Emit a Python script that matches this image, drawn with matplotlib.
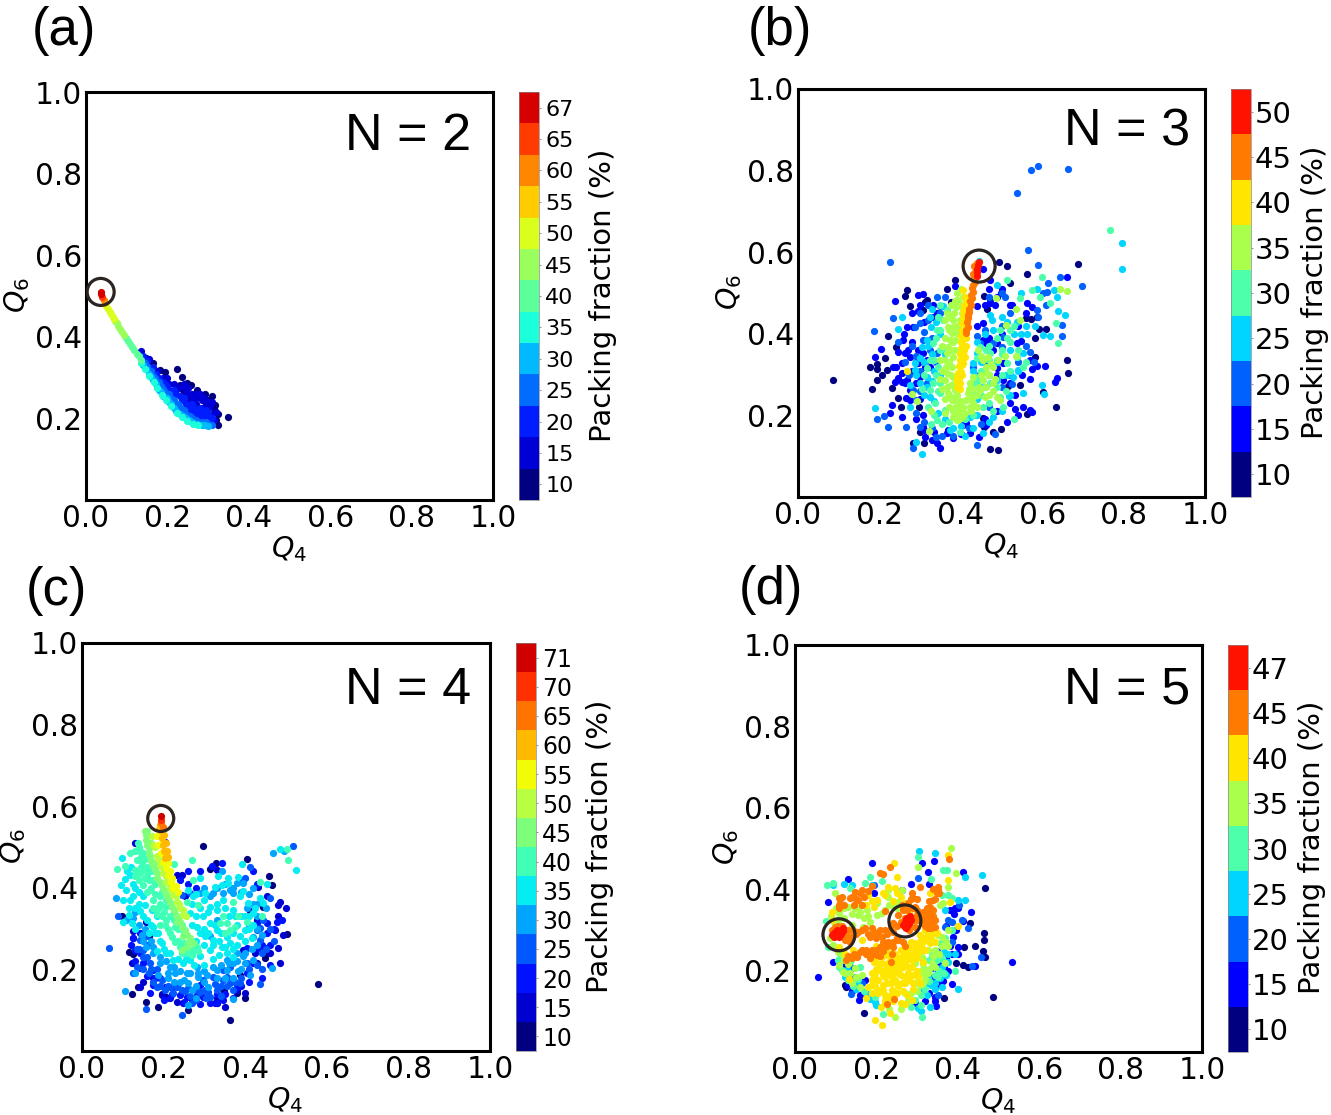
import matplotlib
matplotlib.use("Agg")
import matplotlib.pyplot as plt
from matplotlib.colors import ListedColormap, BoundaryNorm

W, H = 1331, 1115

# (Q4, Q6), one list per packing fraction level
a_10 = [(.147,.347),(.164,.335),(.182,.318),(.193,.314),(.224,.321),(.235,.302),(.231,.282),(.247,.286),(.272,.269),(.292,.261),(.309,.255),(.317,.233),(.325,.212),(.35,.204),(.325,.184),(.310,.186),(.239,.269),(.247,.253),(.258,.283),(.283,.255),(.300,.245),(.315,.225),(.320,.195)]
a_15 = [(.135,.365),(.155,.345),(.175,.315),(.190,.300),(.205,.285),(.225,.275),(.245,.27),(.26,.26),(.27,.25),(.285,.245),(.295,.235),(.305,.23),(.31,.21),(.30,.20),(.315,.195),(.245,.24),(.255,.235),(.27,.235),(.235,.255),(.215,.265),
        (.20,.30),(.215,.285),(.235,.28),(.25,.26),(.26,.245),(.28,.26),(.29,.25),(.30,.24),(.31,.24),(.32,.215),(.29,.21),(.25,.275),(.27,.26),(.285,.225),(.3,.225),(.24,.285)]
a_20 = [(.140,.352),(.165,.325),(.18,.30),(.195,.285),(.205,.27),(.22,.26),(.235,.245),(.25,.225),(.265,.225),(.28,.225),(.295,.22),(.30,.21),(.275,.205),(.29,.195),(.305,.19),(.26,.21),
        (.15,.34),(.172,.31),(.19,.29),(.2,.28),(.215,.27),(.23,.255),(.245,.235),(.26,.235),(.27,.215),(.285,.21),(.255,.22),(.295,.2),(.31,.2),(.28,.2),(.24,.25)]
a_25 = [(.145,.335),(.16,.315),(.17,.30),(.185,.28),(.195,.265),(.21,.25),(.225,.235),(.24,.22),(.255,.205),(.27,.195),(.285,.19),(.30,.187),(.31,.185),
        (.15,.325),(.165,.305),(.18,.29),(.19,.272),(.205,.26),(.215,.245),(.23,.228),(.245,.212),(.26,.2),(.275,.19),(.295,.192)]
a_30 = [(.14,.33),(.155,.31),(.165,.295),(.18,.27),(.19,.255),(.205,.24),(.215,.225),(.23,.21),(.245,.2),(.26,.19),(.285,.184),(.30,.182),
        (.148,.32),(.16,.302),(.172,.285),(.185,.265),(.198,.25),(.21,.235),(.222,.218),(.238,.205),(.252,.195),(.272,.186),(.292,.183)]
a_35 = [(.135,.335),(.145,.32),(.155,.305),(.166,.288),(.175,.275),(.187,.257),(.197,.245),(.21,.23),(.223,.214),(.235,.203),(.247,.194),(.262,.187),(.276,.184)]
a_40 = [(.098,.398),(.103,.390),(.109,.382),(.114,.375),(.119,.367),(.125,.359),(.130,.352),(.136,.344)]
a_45 = [(.072,.439),(.075,.434),(.079,.427),(.084,.420),(.089,.412),(.094,.405)]
a_50 = [(.050,.476),(.054,.469),(.058,.462),(.062,.455),(.066,.448),(.069,.443)]
a_55 = [(.047,.483)]
a_60 = [(.043,.490)]
a_65 = [(.040,.497)]
a_67 = [(.036,.510),(.038,.505)]

b_10 = [(.087,.287),(.177,.318),(.193,.326),(.193,.313),(.181,.264),(.206,.299),(.218,.311),(.195,.287),(.222,.395),(.214,.340),(.230,.266),(.242,.367),(.269,.507),(.263,.493),(.275,.468),(.312,.479),(.318,.484),(.308,.458),(.246,.242),(.252,.221),(.298,.221),(.300,.160),(.310,.132),(.283,.132),(.472,.118),(.491,.115),(.498,.166),(.455,.193),(.457,.172),(.480,.160),(.634,.220),(.563,.203),(.601,.258),(.664,.305),(.662,.336),(.582,.342),(.593,.411),(.609,.411),(.583,.389),(.588,.442),(.572,.436),(.560,.438),(.563,.547),(.689,.571),(.513,.566),(.495,.575),(.386,.533),(.367,.511),(.375,.479),(.464,.460),(.458,.493),(.521,.525),(.545,.275),(.517,.272)]
b_15 = [(.455,.560),(.472,.532),(.662,.540),(.238,.481),(.296,.495),(.308,.498),(.296,.455),(.189,.344),(.203,.363),(.242,.319),(.246,.291),(.255,.283),(.267,.287),(.265,.242),(.230,.225),(.226,.205),(.255,.197),(.308,.201),(.312,.148),(.341,.132),(.350,.119),(.334,.160),(.365,.158),(.423,.158),(.445,.148),(.513,.185),(.533,.250),(.533,.215),(.552,.220),(.574,.209),(.637,.291),(.607,.322),(.588,.321),(.576,.313),(.547,.383),(.562,.475),(.525,.471),(.472,.483),(.484,.471),(.498,.499),(.439,.467),(.414,.181),(.431,.201),(.463,.377),(.480,.360),(.275,.344),(.316,.336),(.312,.319),(.300,.295),
        (.267,.417),(.279,.450),(.332,.471),(.341,.450),(.257,.386),(.246,.356),(.263,.352),(.255,.328),(.234,.319),(.255,.303),(.238,.283),(.263,.279),(.275,.262),(.275,.238),(.296,.328),(.308,.352),(.296,.360),(.324,.319),(.308,.172),(.369,.164),(.406,.176),(.463,.176),(.504,.287),(.488,.315),(.504,.328),(.570,.336),(.574,.466),(.537,.377),(.488,.377),(.455,.385),(.472,.475),(.488,.491),(.386,.516),(.332,.442),(.570,.213),(.283,.417),(.455,.426),(.439,.418),(.631,.283),
        (.26,.40),(.28,.38),(.27,.36),(.29,.33),(.28,.31),(.29,.28),(.30,.24),(.29,.19),(.31,.165),(.33,.14),(.38,.145),(.40,.155),(.46,.19),(.49,.21),(.52,.28),(.49,.30),(.47,.39),(.50,.40),(.54,.42),(.56,.45),(.52,.47),(.50,.51),(.47,.51),(.46,.47),(.31,.43),(.30,.47),(.55,.30),(.57,.29),(.52,.23),(.54,.20)]
b_20 = [(.226,.577),(.537,.744),(.572,.802),(.590,.811),(.664,.803),(.565,.605),(.589,.568),(.644,.538),(.699,.518),(.615,.524),(.186,.408),(.234,.438),(.212,.198),(.193,.192),(.222,.172),(.265,.171),(.283,.119),(.339,.148),(.441,.127),(.484,.154),(.246,.381),(.288,.417),(.300,.426),(.341,.491),(.349,.467),(.320,.434),(.308,.385),(.324,.360),(.341,.352),(.283,.262),(.291,.238),(.300,.172),(.500,.499),(.509,.491),(.586,.458),(.603,.499),(.611,.503),(.649,.395),(.649,.422),(.570,.356),(.500,.368),(.480,.377),(.447,.377),(.431,.319),(.504,.393),(.525,.278),
        (.262,.33),(.272,.30),(.29,.345),(.30,.31),(.28,.37),(.31,.405),(.33,.39),(.34,.33),(.318,.28),(.30,.26),(.29,.205),(.31,.185),(.33,.17),(.355,.15),(.38,.15),(.42,.17),(.45,.18),(.47,.22),(.50,.27),(.52,.30),(.54,.33),(.50,.42),(.52,.45),(.47,.49),(.46,.41),(.44,.395),(.46,.33),(.445,.30),(.59,.44),(.61,.47),(.56,.37),(.58,.33),(.35,.45),(.36,.49),(.32,.47),(.30,.45)]
b_25 = [(.189,.219),(.255,.442),(.246,.412),(.305,.105),(.291,.134),(.795,.623),(.796,.560),(.445,.578),(.488,.520),(.549,.499),(.586,.509),(.629,.507),(.636,.491),(.640,.456),(.657,.446),(.582,.420),(.547,.400),(.563,.400),(.601,.397),(.619,.395),(.600,.275),(.605,.252),(.552,.254),(.529,.295),(.541,.311),(.518,.248),(.423,.197),(.324,.442),(.357,.467),(.328,.417),(.316,.385),(.304,.368),(.287,.328),(.275,.274),(.287,.311),(.316,.295),(.316,.270),(.324,.246),(.275,.221),(.373,.164),(.455,.156),(.480,.197),(.431,.328),(.439,.352),(.472,.446),(.476,.434),(.513,.430),(.537,.430),(.553,.352),(.488,.287),
        (.33,.46),(.34,.43),(.35,.40),(.32,.37),(.33,.35),(.30,.34),(.29,.30),(.31,.33),(.335,.31),(.30,.28),(.33,.285),(.31,.25),(.335,.235),(.345,.205),(.36,.19),(.38,.17),(.40,.175),(.41,.15),(.43,.17),(.44,.20),(.47,.185),(.50,.21),(.52,.25),(.51,.30),(.49,.33),(.45,.33),(.44,.38),(.46,.40),(.48,.41),(.50,.44),(.53,.40),(.56,.42),(.52,.36),(.54,.31),(.47,.30),(.45,.27),(.43,.31),(.44,.24),(.36,.35),(.35,.30),(.35,.26)]
b_30 = [(.767,.654),(.599,.538),(.640,.378),(.531,.192),(.545,.487),(.513,.532),(.574,.507),(.594,.491),(.619,.475),(.634,.426),(.496,.409),(.513,.389),(.521,.409),(.500,.360),(.472,.352),(.488,.336),(.513,.328),(.537,.344),(.553,.319),(.439,.295),(.472,.279),(.496,.246),(.504,.221),(.455,.221),(.431,.254),(.365,.458),(.357,.434),(.341,.409),(.332,.377),(.357,.368),(.324,.336),(.345,.319),(.316,.315),(.332,.279),(.324,.262),(.349,.254),(.337,.230),(.361,.213),(.341,.189),(.328,.179),(.398,.160),(.463,.360),(.447,.368),
        (.35,.47),(.345,.44),(.35,.41),(.34,.39),(.35,.36),(.335,.335),(.34,.30),(.35,.28),(.345,.26),(.31,.30),(.305,.265),(.32,.22),(.335,.20),(.355,.18),(.37,.185),(.41,.19),(.43,.20),(.45,.25),(.46,.27),(.49,.27),(.51,.26),(.47,.23),(.48,.21),(.44,.28),(.45,.31),(.47,.335),(.50,.35),(.52,.38),(.53,.42),(.49,.39),(.47,.37),(.44,.34),(.43,.28),(.54,.36),(.56,.33),(.52,.31),(.50,.30)]
b_35 = [(.390,.499),(.391,.483),(.388,.466),(.383,.450),(.382,.434),(.380,.417),(.378,.401),(.373,.385),(.369,.368),(.365,.352),(.361,.336),(.364,.319),(.367,.303),(.361,.287),(.365,.270),(.369,.254),(.378,.238),(.386,.221),(.394,.205),(.402,.197),(.390,.189),(.406,.221),(.414,.238),(.418,.254),(.386,.262),(.386,.279),(.382,.295),(.378,.319),(.382,.344),(.386,.360),(.386,.385),(.390,.401),(.394,.417),(.398,.434),(.402,.450),(.402,.466),(.406,.491),(.365,.450),(.361,.434),(.369,.417),(.431,.246),(.447,.262),(.463,.270),(.480,.279),(.455,.287),(.480,.319),(.463,.319),(.468,.344),(.443,.360),(.488,.246),(.459,.246),(.496,.238),(.439,.221),(.423,.221),(.382,.197),(.361,.205),(.644,.509),(.660,.504),(.486,.487),(.536,.462),(.545,.434),(.511,.422),(.536,.346),(.509,.346),(.491,.337),(.279,.252),(.293,.236),(.322,.162),(.327,.211),(.423,.279),(.431,.295),
        (.375,.47),(.37,.44),(.37,.41),(.36,.39),(.355,.37),(.35,.335),(.355,.31),(.35,.29),(.355,.265),(.36,.24),(.37,.22),(.38,.21),(.395,.19),(.41,.205),(.425,.21),(.43,.23),(.375,.245),(.39,.25),(.40,.235),(.42,.24),(.44,.25),(.445,.27),(.47,.25),(.48,.26),(.45,.30),(.47,.30),(.375,.30),(.37,.33),(.375,.36),(.38,.38),(.39,.42),(.385,.48),(.395,.475),(.40,.51),(.395,.22),(.40,.21),(.39,.235),(.375,.275),(.42,.265),(.43,.265),(.45,.345),(.455,.335),(.475,.325),(.465,.305),(.485,.29)]
b_40 = [(.267,.310),(.406,.507),(.410,.491),(.414,.475),(.413,.458),(.406,.442),(.402,.426),(.410,.405),(.406,.389),(.405,.373),(.406,.356),(.402,.340),(.402,.324),(.400,.307),(.396,.291),(.394,.275),(.398,.264),(.414,.369),(.410,.344),(.406,.328),(.390,.295),(.398,.279),
        (.408,.47),(.405,.455),(.403,.41),(.401,.395),(.40,.38),(.40,.365),(.398,.35),(.397,.335),(.396,.32),(.393,.305),(.39,.285),(.39,.27),(.412,.44),(.41,.425),(.412,.39),(.408,.36),(.404,.30)]
b_45 = [(.441,.573),(.439,.565),(.435,.552),(.432,.536),(.431,.520),(.429,.503),(.427,.487),(.424,.471),(.421,.454),(.418,.438),(.418,.417),(.414,.401),(.432,.565),(.429,.547),
        (.436,.545),(.434,.528),(.428,.512),(.426,.495),(.423,.48),(.42,.462),(.418,.447),(.415,.43),(.412,.41),(.437,.56)]
b_50 = [(.445,.577),(.443,.569),(.441,.560),(.440,.552),(.439,.542)]

c_10 = [(.296,.503),(.404,.470),(.328,.460),(.314,.446),(.458,.429),(.465,.406),(.444,.354),(.412,.342),(.097,.330),(.578,.165),(.363,.077),(.187,.107),(.157,.121),(.122,.140),(.114,.242),(.124,.238),(.163,.281),(.399,.129),(.379,.142),(.349,.146),(.207,.133),(.195,.140),(.261,.101),(.457,.240),(.449,.227),(.502,.286),(.428,.321),(.387,.187),(.330,.117),(.138,.158)]
c_15 = [(.124,.295),(.123,.216),(.124,.276),(.142,.158),(.150,.170),(.175,.178),(.195,.138),(.213,.129),(.232,.121),(.248,.117),(.330,.129),(.350,.109),(.379,.150),(.399,.142),(.485,.215),(.481,.252),(.493,.285),(.499,.350),(.485,.366),(.481,.358),(.481,.332),(.473,.297),(.449,.252),(.424,.240),(.428,.215),(.461,.240),(.244,.432),(.232,.432),(.252,.379),(.330,.444),(.130,.509),(.203,.513),(.453,.379),(.432,.403),(.416,.342),(.395,.248),(.158,.317),(.326,.117)]
c_20 = [(.126,.276),(.142,.289),(.130,.248),(.142,.240),(.154,.227),(.142,.203),(.175,.199),(.191,.178),(.203,.158),(.224,.158),(.240,.138),(.257,.133),(.297,.133),(.330,.117),(.289,.162),(.346,.125),(.379,.158),(.404,.191),(.420,.215),(.440,.260),(.432,.252),(.404,.252),(.428,.313),(.318,.454),(.342,.462),(.261,.440),(.240,.419),(.395,.419),(.167,.142),(.216,.129),(.281,.138),(.314,.117),(.175,.162),(.477,.317),(.453,.289),(.453,.313),
        (.12,.26),(.15,.215),(.16,.185),(.18,.18),(.2,.125),(.22,.14),(.25,.12),(.27,.125),(.29,.115),(.33,.14),(.35,.14),(.37,.13),(.39,.16),(.41,.17),(.44,.18),(.46,.21),(.46,.26),(.47,.3),(.49,.32),(.26,.41),(.28,.40),(.29,.44),(.42,.44),(.43,.41),(.13,.22)]
c_25 = [(.066,.253),(.516,.503),(.158,.103),(.244,.089),(.436,.165),(.089,.330),(.126,.191),(.142,.272),(.158,.281),(.150,.248),(.167,.215),(.195,.174),(.183,.158),(.232,.158),(.252,.146),(.281,.150),(.301,.150),(.330,.150),(.346,.174),(.363,.166),(.387,.166),(.404,.215),(.436,.272),(.444,.321),(.461,.374),(.412,.452),(.399,.423),(.265,.387),(.244,.383),(.134,.207),(.163,.191),(.216,.158),(.314,.133),(.355,.182),(.428,.297),(.436,.301),(.269,.117),(.224,.142),(.203,.150),(.371,.150),(.363,.207),(.346,.199),(.322,.182),(.297,.174),
        (.15,.23),(.16,.23),(.17,.20),(.185,.20),(.19,.16),(.21,.16),(.235,.165),(.245,.15),(.265,.135),(.29,.145),(.31,.145),(.325,.165),(.34,.16),(.355,.16),(.375,.17),(.39,.18),(.41,.20),(.43,.21),(.44,.24),(.44,.20),(.15,.20),(.175,.17),(.26,.155),(.28,.125),(.305,.13),(.34,.135),(.46,.30),(.47,.27),(.45,.25),(.135,.25),(.14,.25),(.16,.26)]
c_30 = [(.467,.486),(.496,.491),(.083,.376),(.130,.191),(.105,.147),(.279,.129),(.369,.127),(.342,.440),(.109,.321),(.126,.325),(.146,.285),(.158,.256),(.175,.240),(.191,.215),(.216,.207),(.228,.191),(.240,.170),(.261,.166),(.285,.182),(.306,.187),(.330,.199),(.355,.199),(.371,.215),(.395,.232),(.416,.249),(.420,.223),(.412,.187),(.465,.203),(.379,.240),(.383,.195),(.355,.223),(.281,.207),(.257,.191),(.212,.178),(.187,.187),(.269,.150),(.310,.158),(.261,.113),(.346,.387),(.363,.395),(.314,.379),(.289,.387),(.420,.399),(.395,.411),(.379,.411),(.322,.387),(.371,.387),(.404,.350),(.330,.321),(.293,.289),(.314,.281),
        (.13,.34),(.12,.33),(.14,.31),(.155,.30),(.15,.27),(.17,.27),(.175,.255),(.19,.23),(.205,.22),(.225,.205),(.24,.195),(.265,.19),(.285,.19),(.30,.195),(.32,.205),(.34,.21),(.36,.215),(.38,.22),(.40,.24),(.40,.215),(.30,.17),(.28,.16),(.33,.18),(.35,.18),(.37,.18),(.39,.20),(.21,.19),(.225,.17),(.25,.175),(.30,.40),(.33,.40),(.35,.41),(.37,.40),(.39,.39),(.41,.385),(.43,.36),(.45,.35),(.43,.33),(.42,.36),(.41,.31),(.43,.30),(.44,.285),(.43,.26),(.42,.28)]
c_35 = [(.099,.474),(.118,.432),(.105,.421),(.096,.407),(.109,.395),(.126,.379),(.118,.370),(.114,.334),(.101,.315),(.122,.313),(.142,.342),(.154,.358),(.171,.346),(.183,.330),(.175,.305),(.187,.289),(.195,.264),(.183,.244),(.207,.240),(.224,.223),(.248,.215),(.265,.223),(.289,.232),(.314,.248),(.301,.281),(.322,.272),(.342,.256),(.363,.264),(.387,.281),(.399,.297),(.330,.297),(.314,.313),(.297,.330),(.281,.305),(.265,.338),(.273,.379),(.261,.395),(.301,.387),(.326,.403),(.342,.407),(.359,.411),(.383,.426),(.395,.391),(.387,.379),(.408,.362),(.420,.338),(.424,.350),(.436,.374),(.444,.362),(.346,.370),(.371,.346),(.314,.354),(.289,.423),(.334,.428),(.359,.423),(.330,.346),(.525,.444),(.391,.458),(.485,.495),(.453,.409),(.417,.278),
        (.30,.30),(.31,.29),(.325,.31),(.34,.29),(.355,.28),(.37,.29),(.38,.31),(.39,.33),(.40,.33),(.375,.33),(.36,.33),(.35,.35),(.33,.36),(.31,.34),(.29,.35),(.28,.33),(.27,.31),(.29,.29),(.28,.27),(.30,.26),(.32,.26),(.335,.27),(.35,.255),(.37,.25),(.38,.26),(.40,.27),(.41,.30),(.42,.31),(.41,.33),(.27,.36),(.28,.385),(.30,.37),(.13,.40),(.14,.39),(.15,.38),(.13,.35),(.14,.36),(.15,.33),(.16,.32),(.17,.31),(.18,.29),(.165,.29),(.19,.27),(.20,.25),(.215,.24),(.235,.225),(.255,.225),(.275,.21),(.30,.21),(.32,.225),(.335,.235),(.355,.24),(.37,.23),(.12,.45),(.11,.44),(.125,.41),(.10,.37),(.115,.35),(.13,.30)]
c_40 = [(.138,.509),(.142,.489),(.134,.468),(.146,.464),(.154,.444),(.142,.436),(.163,.419),(.150,.407),(.167,.395),(.175,.370),(.187,.350),(.195,.330),(.203,.309),(.216,.289),(.228,.268),(.240,.256),(.257,.240),(.269,.248),(.281,.256),(.228,.305),(.216,.330),(.203,.354),(.191,.379),(.118,.485),(.105,.454),(.130,.444),(.085,.446),(.269,.468),(.225,.459),(.502,.495),(.506,.468),(.273,.419),(.383,.330),(.404,.315),(.440,.330),(.436,.415),(.371,.366),(.285,.358),(.257,.366),(.346,.330),(.355,.313),(.363,.297),(.338,.313),(.350,.289),(.375,.305),
        (.13,.49),(.14,.50),(.15,.485),(.155,.47),(.16,.45),(.145,.45),(.13,.43),(.14,.42),(.155,.425),(.17,.40),(.16,.39),(.18,.385),(.19,.36),(.175,.35),(.185,.335),(.20,.34),(.205,.32),(.19,.31),(.21,.30),(.225,.32),(.235,.30),(.22,.28),(.235,.27),(.25,.265),(.26,.25),(.245,.24),(.27,.235),(.285,.245),(.275,.265),(.24,.31),(.25,.29),(.145,.475),(.16,.43),(.17,.44),(.175,.42),(.18,.41),(.195,.39),(.205,.37),(.215,.355),(.225,.34),(.235,.325),(.245,.31)]
c_45 = [(.154,.538),(.158,.517),(.163,.497),(.167,.477),(.175,.456),(.183,.436),(.191,.415),(.201,.395),(.212,.374),(.220,.354),(.230,.334),(.240,.317),(.252,.297),(.265,.276),(.273,.264),(.257,.256),(.244,.248),(.232,.317),(.248,.281),(.261,.264),
        (.157,.53),(.16,.505),(.165,.485),(.17,.465),(.178,.445),(.185,.425),(.195,.405),(.205,.385),(.215,.365),(.225,.345),(.235,.325),(.245,.305),(.258,.285),(.268,.27),(.16,.54),(.17,.51),(.18,.46)]
c_50 = [(.171,.526),(.175,.505),(.183,.477),(.190,.456),(.199,.436),(.207,.415),(.216,.399),(.224,.383),(.232,.366),(.240,.350),(.247,.334),
        (.18,.50),(.187,.47),(.195,.45),(.205,.43),(.213,.41),(.22,.395),(.23,.38),(.238,.36),(.248,.345),(.255,.33)]
c_55 = [(.183,.526),(.187,.505),(.193,.485),(.199,.464),(.206,.448),(.212,.432),(.217,.415),(.224,.399),
        (.196,.51),(.205,.475),(.21,.46),(.215,.44),(.22,.425),(.23,.405),(.235,.39)]
c_60 = [(.191,.554),(.193,.538),(.195,.522),(.198,.505),(.201,.489),(.204,.473),(.188,.545),(.20,.53),(.205,.51),(.208,.49),(.21,.475)]
c_65 = [(.193,.558),(.198,.550)]
c_70 = [(.193,.566)]
c_71 = [(.193,.575)]

d_10 = [(.467,.404),(.465,.293),(.464,.275),(.442,.261),(.415,.257),(.463,.247),(.467,.233),(.395,.218),(.412,.214),(.426,.208),(.487,.134),(.366,.132),(.170,.097),(.123,.165),(.125,.159),(.359,.234),(.430,.316)]
d_15 = [(.188,.464),(.313,.464),(.341,.470),(.056,.185),(.532,.220),(.080,.369),(.131,.425),(.094,.222),(.157,.128),(.346,.114),(.432,.344),(.414,.323),(.401,.353),(.393,.353),(.400,.259),(.389,.283),(.401,.242),(.356,.218),(.348,.165),(.364,.175),(.328,.443),(.329,.414),(.285,.414),(.193,.390),(.352,.202),(.340,.185),(.344,.136),(.172,.177),(.123,.214),(.385,.166),(.295,.120),(.262,.398),(.414,.443),(.442,.211),
        (.35,.17),(.36,.19),(.365,.21),(.375,.20),(.37,.23),(.385,.24),(.38,.26),(.395,.30),(.37,.31),(.39,.34),(.38,.35),(.33,.145),(.345,.125),(.32,.125),(.16,.14),(.14,.15),(.13,.165)]
d_20 = [(.137,.143),(.377,.324),(.424,.304),(.456,.234),(.434,.211),(.385,.320),(.385,.271),(.404,.362),(.303,.427),(.352,.140),(.336,.206),(.165,.169),(.193,.410),(.410,.324),(.369,.308),(.344,.177),(.147,.185),(.139,.206),(.348,.247)]
d_25 = [(.305,.494),(.344,.488),(.460,.435),(.120,.414),(.093,.410),(.418,.431),(.188,.410),(.301,.107),(.332,.111),(.401,.154),(.418,.374),(.401,.374),(.369,.349),(.328,.169),(.328,.185),(.311,.152),(.139,.410),(.147,.177),(.123,.185),(.127,.201),(.377,.242),(.356,.181),(.393,.242),(.364,.226),(.197,.124),
        (.335,.165),(.345,.155),(.325,.14),(.36,.16),(.37,.19),(.345,.17),(.375,.22),(.36,.21),(.35,.24),(.365,.245),(.15,.155),(.155,.165),(.13,.19),(.175,.145),(.185,.13),(.20,.115),(.31,.10)]
d_30 = [(.078,.410),(.094,.416),(.184,.429),(.213,.419),(.172,.416),(.135,.402),(.301,.478),(.334,.424),(.364,.446),(.373,.447),(.311,.085),(.215,.093),(.076,.323),(.080,.257),(.393,.199),(.107,.210),(.115,.202),(.143,.161),(.369,.279),(.385,.300),(.356,.267),(.336,.238),(.352,.185),(.385,.378),(.360,.386),(.377,.386),(.367,.193),(.131,.177),(.315,.226),(.319,.202),(.295,.128),(.197,.136),
        (.33,.225),(.345,.19),(.33,.175),(.355,.20),(.36,.23),(.35,.225),(.32,.155),(.31,.14),(.31,.115),(.285,.11),(.17,.15),(.155,.18),(.16,.21),(.135,.22),(.11,.23),(.105,.225)]
d_35 = [(.383,.502),(.303,.455),(.396,.439),(.098,.390),(.088,.333),(.107,.341),(.131,.357),(.147,.353),(.156,.337),(.180,.333),(.201,.337),(.176,.349),(.168,.308),(.139,.312),(.086,.279),(.094,.263),(.107,.214),(.119,.197),(.123,.193),(.139,.169),(.147,.206),(.221,.349),(.311,.234),(.336,.218),(.315,.193),(.295,.169),(.270,.144),(.307,.165),(.278,.128),(.246,.087),(.328,.193),(.369,.218),(.362,.282),(.352,.288),(.229,.398),(.262,.398),(.254,.369),(.377,.406),(.364,.365),(.356,.361),(.377,.300),(.229,.382),(.156,.357),(.311,.202),(.295,.218),(.315,.251),(.328,.251),(.201,.365),(.213,.341),
        (.16,.345),(.17,.33),(.185,.32),(.14,.34),(.12,.33),(.105,.325),(.12,.355),(.10,.355),(.095,.32),(.115,.24),(.105,.245),(.12,.225),(.13,.215),(.135,.195),(.15,.185),(.16,.16),(.165,.19),(.315,.215),(.33,.205),(.32,.18),(.315,.17),(.30,.15),(.285,.145),(.26,.105),(.23,.105),(.345,.21),(.355,.24),(.34,.235),(.345,.25),(.36,.26),(.37,.27),(.375,.26),(.24,.36),(.23,.36),(.25,.355)]
d_40 = [(.243,.465),(.251,.431),(.377,.423),(.375,.484),(.092,.343),(.090,.324),(.197,.079),(.213,.066),(.133,.179),(.174,.132),(.221,.128),(.270,.118),(.233,.095),(.211,.111),(.143,.251),(.229,.406),(.246,.402),(.332,.390),(.381,.368),(.400,.310),(.221,.386),(.201,.374),(.193,.357),(.123,.242),(.164,.275),(.270,.259),(.295,.267),(.319,.300),(.336,.292),(.319,.275),(.311,.267),(.262,.234),(.278,.242),(.295,.234),(.246,.242),(.229,.218),(.213,.218),(.197,.193),(.188,.177),(.197,.161),(.217,.152),(.238,.152),(.254,.161),(.270,.185),(.254,.193),(.238,.185),(.221,.185),(.209,.202),(.225,.169),(.246,.177),(.266,.210),(.287,.210),(.270,.218),(.254,.218),(.278,.193),(.262,.169),(.205,.177),(.205,.152),(.188,.165),(.221,.202),(.238,.202),(.287,.226),(.303,.259),(.332,.267),(.348,.292),(.307,.288),(.238,.226),(.209,.251),(.193,.222),(.107,.259),(.307,.169),(.303,.185),(.278,.177),(.229,.136),(.287,.128),
        (.20,.23),(.215,.235),(.23,.235),(.245,.228),(.26,.22),(.275,.228),(.29,.24),(.305,.245),(.32,.25),(.335,.28),(.345,.27),(.31,.275),(.30,.23),(.315,.22),(.28,.21),(.255,.205),(.24,.21),(.225,.21),(.21,.215),(.20,.205),(.19,.195),(.20,.18),(.215,.19),(.23,.195),(.245,.2),(.26,.19),(.28,.18),(.29,.19),(.30,.20),(.29,.17),(.27,.17),(.25,.17),(.235,.17),(.215,.165),(.195,.17),(.205,.145),(.22,.14),(.235,.14),(.25,.145),(.265,.15),(.19,.145),(.24,.125),(.22,.12),(.26,.12),(.275,.14),(.29,.155),(.18,.16),(.255,.23),(.24,.24),(.225,.245),(.26,.25),(.28,.255),(.295,.255),(.31,.26),(.325,.285),(.285,.27),(.27,.245),(.215,.25),(.20,.26),(.18,.385),(.19,.37),(.215,.39),(.175,.36),(.25,.39),(.26,.38),(.27,.365),(.28,.345),(.24,.37)]
d_45 = [(.379,.474),(.233,.455),(.209,.441),(.217,.437),(.227,.118),(.244,.130),(.235,.221),(.270,.261),(.131,.236),(.125,.226),(.153,.233),(.107,.378),(.111,.365),(.107,.353),(.139,.382),(.147,.394),(.160,.390),(.156,.374),(.164,.398),(.164,.361),(.135,.378),(.188,.408),(.287,.390),(.291,.378),(.307,.406),(.352,.406),(.348,.390),(.340,.374),(.332,.357),(.328,.341),(.324,.324),(.332,.316),(.344,.308),(.328,.304),(.311,.316),(.295,.357),(.278,.365),(.262,.361),(.221,.346),(.172,.304),(.188,.304),(.201,.292),(.184,.283),(.156,.296),(.143,.300),(.213,.283),(.221,.300),(.229,.271),(.242,.259),(.209,.259),(.217,.247),(.201,.238),(.184,.230),(.188,.251),(.164,.251),(.233,.300),(.131,.283),(.119,.300),(.123,.275),(.098,.308),(.090,.300),(.254,.337),(.242,.316),(.295,.308),(.307,.328),(.315,.345),(.299,.337),(.352,.398),(.340,.349),(.254,.275),(.107,.361),(.238,.242),
        (.115,.38),(.12,.36),(.15,.375),(.17,.38),(.145,.36),(.18,.395),(.33,.37),(.335,.345),(.34,.335),(.345,.325),(.335,.305),(.32,.31),(.31,.33),(.30,.325),(.29,.325),(.28,.315),(.27,.33),(.26,.32),(.25,.31),(.24,.295),(.225,.29),(.21,.30),(.195,.295),(.18,.29),(.165,.30),(.15,.29),(.14,.285),(.135,.27),(.13,.30),(.115,.31),(.105,.31),(.12,.285),(.20,.28),(.215,.27),(.225,.26),(.24,.27),(.25,.28),(.235,.31),(.265,.27),(.28,.30),(.29,.355),(.30,.35),(.345,.375),(.355,.39),(.34,.40),(.325,.355),(.32,.335),(.20,.25),(.19,.24),(.21,.235),(.175,.25),(.16,.245),(.175,.24),(.145,.24),(.14,.23),(.33,.33),(.275,.35),(.30,.375),(.285,.375),(.265,.35)]
d_47 = [(.094,.290),(.102,.288),(.111,.293),(.119,.298),(.107,.282),(.102,.300),(.270,.308),(.274,.316),(.278,.324),(.283,.334),(.270,.320),(.278,.312),
        (.098,.295),(.106,.297),(.114,.29),(.097,.283),(.272,.327),(.28,.318),(.276,.33),(.266,.312),(.272,.305),(.285,.325),(.09,.287),(.117,.305)]

a_labels = [10,15,20,25,30,35,40,45,50,55,60,65,67]
b_labels = [10,15,20,25,30,35,40,45,50]
c_labels = [10,15,20,25,30,35,40,45,50,55,60,65,70,71]
d_labels = [10,15,20,25,30,35,40,45,47]

a_points = [a_10,a_15,a_20,a_25,a_30,a_35,a_40,a_45,a_50,a_55,a_60,a_65,a_67]
b_points = [b_10,b_15,b_20,b_25,b_30,b_35,b_40,b_45,b_50]
c_points = [c_10,c_15,c_20,c_25,c_30,c_35,c_40,c_45,c_50,c_55,c_60,c_65,c_70,c_71]
d_points = [d_10,d_15,d_20,d_25,d_30,d_35,d_40,d_45,d_47]

a_rings = [(.036,.510)]
b_rings = [(.445,.566)]
c_rings = [(.193,.570)]
d_rings = [(.108,.288),(.270,.322)]

fig = plt.figure(figsize=(W/100, H/100), dpi=100)
jet = plt.get_cmap("jet")


def box(x0, y0, x1, y1):
    return [x0/W, 1-y1/H, (x1-x0)/W, (y1-y0)/H]


def put(x, y, s, **kw):
    fig.text(x/W, 1-y/H, s, ha=kw.pop("ha", "center"), va=kw.pop("va", "center"), **kw)


def panel(points, labels, rings, ax_box, cb_x, name, name_xy, n_text, n_xy, cb_font, label_x, ring_px, cb_pad=3, dot=27):
    x0, y0, x1, y1 = ax_box
    ax = fig.add_axes(box(*ax_box))
    n = len(labels)
    colors = [jet(i/n) for i in range(n)]
    for pts, col in zip(points, colors):
        ax.scatter([p[0] for p in pts], [p[1] for p in pts], s=dot, color=col, linewidths=0, zorder=2)
    ax.scatter([r[0] for r in rings], [r[1] for r in rings], s=(ring_px*0.72)**2, facecolors="none",
               edgecolors="#2b2420", linewidths=2.3, zorder=3)
    ax.set_xlim(0, 1)
    ax.set_ylim(0, 1)
    ax.set_xticks([0, .2, .4, .6, .8, 1])
    ax.set_yticks([.2, .4, .6, .8, 1])
    ax.set_xticklabels(["0.0", "0.2", "0.4", "0.6", "0.8", "1.0"])
    ax.set_yticklabels(["0.2", "0.4", "0.6", "0.8", "1.0"])
    ax.tick_params(labelsize=21.3, length=0, pad=3)
    for sp in ax.spines.values():
        sp.set_linewidth(2.2)

    cax = fig.add_axes(box(cb_x, y0, cb_x+20, y1))
    cmap = ListedColormap(colors)
    norm = BoundaryNorm(list(range(n+1)), n)
    cb = fig.colorbar(plt.cm.ScalarMappable(norm=norm, cmap=cmap), cax=cax)
    cb.set_ticks([i+.5 for i in range(n)])
    cb.set_ticklabels([str(v) for v in labels])
    cb.ax.tick_params(labelsize=cb_font, length=1.5, width=.5, pad=cb_pad, color="#666666")
    cb.outline.set_linewidth(.5)
    cb.outline.set_edgecolor("#888888")
    cb.ax.minorticks_off()

    put(label_x, (y0+y1)/2-1, "Packing fraction (%)", rotation=90, fontsize=21)
    put((x0+x1)/2-1, y1+49, "$Q_4$", fontsize=20.5)
    put(x0-69, (y0+y1)/2-1, "$Q_6$", rotation=90, fontsize=20.5)
    put(*name_xy, name, fontsize=38, family="Liberation Sans")
    put(*n_xy, n_text, fontsize=37.5, family="Liberation Sans")


panel(a_points, a_labels, a_rings, (86, 92, 493, 500), 519, "(a)", (64, 31), "N = 2", (408, 137), 16, 603, 27)
panel(b_points, b_labels, b_rings, (798, 89, 1205, 497), 1231, "(b)", (780, 31), "N = 3", (1127, 132), 21, 1315, 32, cb_pad=1)
panel(c_points, c_labels, c_rings, (82, 643, 490, 1051), 516, "(c)", (56, 591), "N = 4", (408, 690), 17, 600, 26)
panel(d_points, d_labels, d_rings, (795, 645, 1202, 1052), 1228, "(d)", (771, 590), "N = 5", (1127, 690), 21, 1312, 32, cb_pad=1)

fig.savefig("out.png", dpi=100)
